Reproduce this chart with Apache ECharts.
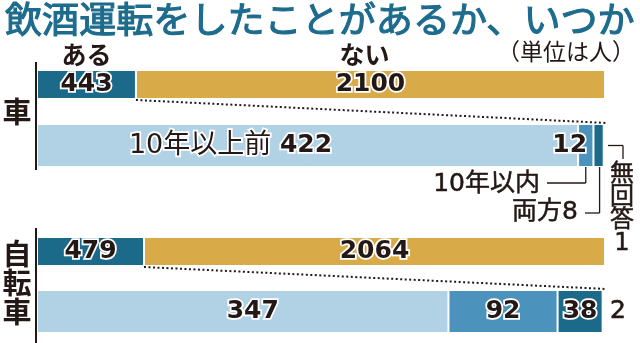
<!DOCTYPE html>
<html><head><meta charset="utf-8">
<script src="https://cdn.jsdelivr.net/npm/echarts@6/dist/echarts.min.js"></script>
<style>html,body{margin:0;padding:0;background:#fff}#c{width:640px;height:343px}</style>
</head><body><div id="c"></div>
<script>
// ---- data ----
const titleText = '飲酒運転をしたことがあるか、いつか';
const unitText = '（単位は人）';
const groups = ['車', '自転車'];
const answerNames = ['ある', 'ない'];
const yesCounts = [443, 479];
const noCounts = [2100, 2064];
const whenNames = ['10年以上前', '10年以内', '両方', '無回答'];
const carWhen = [422, 12, 8, 1];
const bikeWhen = [347, 92, 38, 2];

// ---- style ----
const DARK = '#1b6a8a', GOLD = '#d9aa48', LIGHT = '#b1d1e5', MED = '#4b93bd', TXT = '#231815';
const TITLE_C = '#1d6b8d';
const NUMF = 'DejaVu Sans, Noto Sans CJK JP, sans-serif';
const JPF = 'Noto Sans CJK JP, sans-serif';
const L = 37, R = 35;
const rows = [{top: 70, h: 29}, {top: 124, h: 43}, {top: 237, h: 29}, {top: 290, h: 43}];

const chart = echarts.init(document.getElementById('c'), null, {renderer: 'canvas'});

const sum = a => a.reduce((s, v) => s + v, 0);
const grids = rows.map(r => ({left: L, right: R, top: r.top, height: r.h, containLabel: false}));
const maxes = [yesCounts[0] + noCounts[0], sum(carWhen), yesCounts[1] + noCounts[1], sum(bikeWhen)];
const xAxes = maxes.map((m, i) => ({type: 'value', gridIndex: i, min: 0, max: m, show: false}));
const yAxes = rows.map((r, i) => ({type: 'category', gridIndex: i, data: [groups[i < 2 ? 0 : 1]], show: false}));

const numLabel = (extra) => Object.assign({
  show: true, position: 'inside', fontFamily: NUMF, fontWeight: 'bold', fontSize: 25,
  color: TXT, textBorderColor: '#fff', textBorderWidth: 3.5
}, extra || {});

function bar(gi, name, val, color, label) {
  return {
    type: 'bar', name: name, xAxisIndex: gi, yAxisIndex: gi, stack: 's' + gi,
    data: [val], barWidth: '100%', barCategoryGap: 0,
    itemStyle: {color: color, borderColor: '#fff', borderWidth: 1},
    label: label || {show: false}, silent: true
  };
}

const series = [];
[0, 1].forEach(g => {
  const gi = g * 2;
  series.push(bar(gi, answerNames[0], yesCounts[g], DARK, numLabel()));
  series.push(bar(gi, answerNames[1], noCounts[g], GOLD, numLabel()));
});
// car detail
series.push(bar(1, whenNames[0], carWhen[0], LIGHT, numLabel({
  offset: [-77, 0],
  formatter: p => '{a|' + whenNames[0] + '} {b|' + p.value + '}',
  rich: {
    a: {fontFamily: NUMF, fontSize: 27, fontWeight: 'normal', color: TXT, textBorderColor: '#fff', textBorderWidth: 3.5},
    b: {fontFamily: NUMF, fontSize: 25, fontWeight: 'bold', color: TXT, textBorderColor: '#fff', textBorderWidth: 3.5}
  }
})));
series.push(bar(1, whenNames[1], carWhen[1], MED, numLabel({offset: [-16, 0]})));
series.push(bar(1, whenNames[2], carWhen[2], DARK));
series.push(bar(1, whenNames[3], carWhen[3], '#ffffff'));
// bike detail
series.push(bar(3, whenNames[0], bikeWhen[0], LIGHT, numLabel({offset: [10, 0]})));
series.push(bar(3, whenNames[1], bikeWhen[1], MED, numLabel()));
series.push(bar(3, whenNames[2], bikeWhen[2], DARK, numLabel()));
series.push(bar(3, whenNames[3], bikeWhen[3], '#ffffff', {
  show: true, position: 'right', distance: 5, fontFamily: NUMF, fontSize: 25, color: TXT,
  textBorderColor: TXT, textBorderWidth: 0.6
}));

chart.setOption({
  animation: false,
  backgroundColor: '#fff',
  grid: grids, xAxis: xAxes, yAxis: yAxes, series: series
});

// ---- annotations derived from the axes ----
const px = (gi, v) => chart.convertToPixel({xAxisIndex: gi}, v);
const bottom = i => rows[i].top + rows[i].h;
const mid = i => rows[i].top + rows[i].h / 2;
const g = [];
const line = (x1, y1, x2, y2, extra) => g.push({type: 'line', silent: true,
  shape: {x1, y1, x2, y2}, style: Object.assign({stroke: TXT, lineWidth: 1.3}, extra || {})});
const text = (t, x, y, st) => g.push({type: 'text', silent: true, x, y,
  style: Object.assign({text: t, fill: TXT, fontFamily: NUMF, fontSize: 24}, st)});

// title
g.push({type: 'text', silent: true, x: 5, y: 1, scaleX: 1.03,
  style: {text: titleText, fill: TITLE_C, stroke: TITLE_C, lineWidth: 1.1, fontFamily: JPF, fontSize: 36, fontWeight: 'normal', textVerticalAlign: 'top'}});
text(unitText, 635, 51, {align: 'right', verticalAlign: 'middle', fontSize: 23, fontFamily: JPF});

// ある / ない
const x0 = px(0, 0), xYes = px(0, yesCounts[0]), xEnd = px(0, maxes[0]);
text(answerNames[0], (x0 + xYes) / 2, 54, {align: 'center', verticalAlign: 'middle', fontSize: 25, fontWeight: 'bold', fontFamily: JPF});
text(answerNames[1], (xYes + xEnd) / 2 - 6, 54, {align: 'center', verticalAlign: 'middle', fontSize: 25, fontWeight: 'bold', fontFamily: JPF});

// group labels
text(groups[0], 17, 112, {align: 'center', verticalAlign: 'middle', fontSize: 29, fontWeight: 'bold', fontFamily: JPF});
text(groups[1].split('').join('\n'), 17, 283, {align: 'center', verticalAlign: 'middle', fontSize: 29, lineHeight: 29, fontWeight: 'bold', fontFamily: JPF});

// axis lines
line(36, 62, 36, 170, {lineWidth: 2});
line(36, 228, 36, 343, {lineWidth: 2});

// dotted connectors
[[0, 1, 0], [2, 3, 1]].forEach(([a, b, gIdx]) => {
  const xs = px(a, yesCounts[gIdx]);
  const xe = px(a, maxes[a]);
  line(xs, bottom(a) + 1, xe + 2, rows[b].top - 1, {lineWidth: 2, lineDash: [2, 2.5]});
});

// car detail leaders
const c1 = (px(1, carWhen[0]) + px(1, carWhen[0] + carWhen[1])) / 2;
const c2 = (px(1, carWhen[0] + carWhen[1]) + px(1, carWhen[0] + carWhen[1] + carWhen[2])) / 2;
const cEnd = px(1, maxes[1]);
const ann = {stroke: TXT, lineWidth: 0.5};
line(c1, bottom(1), c1, 183);
line(c1, 183, 547, 183);
text(whenNames[1], 540, 184, Object.assign({align: 'right', verticalAlign: 'middle', fontSize: 25}, ann));
line(c2 + 1, bottom(1), c2 + 1, 213);
line(c2 + 1, 213, 585, 213);
text(whenNames[2] + carWhen[2], 578, 212, Object.assign({align: 'right', verticalAlign: 'middle', fontSize: 25}, ann));
line(cEnd + 3, mid(1), 623, mid(1));
line(623, mid(1), 623, 159);
text((whenNames[3] + carWhen[3]).split('').join('\n'), 622, 209, Object.assign({align: 'center', verticalAlign: 'middle', lineHeight: 23, fontSize: 24}, ann));

chart.setOption({graphic: g});
</script></body></html>
